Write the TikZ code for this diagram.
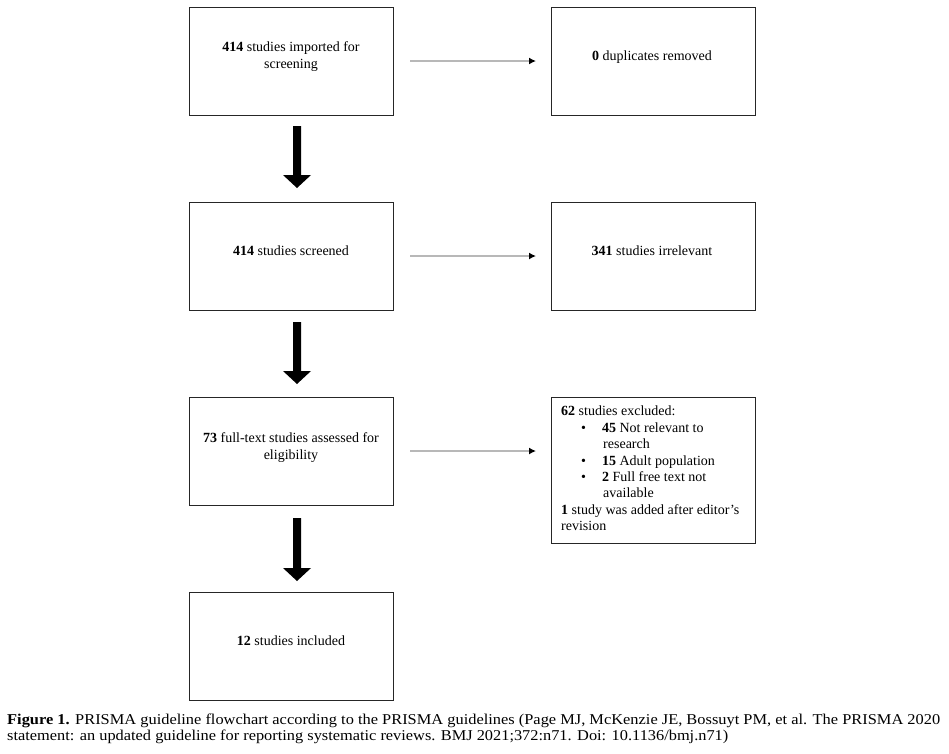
\documentclass[tikz,border=0pt]{standalone}
\usepackage{fontspec}
\setmainfont{Liberation Serif}
\usepackage{graphicx}
\usetikzlibrary{arrows.meta}
\begin{document}
\begin{tikzpicture}[x=1pt,y=-1pt,
  box/.style={draw=black!85,line width=1.2pt,minimum width=204pt,minimum height=108pt,anchor=north west,inner sep=0pt},
  lbl/.style={font=\fontsize{14}{17}\selectfont,align=center},
  bigarrow/.style={draw=none,fill=black},
  thin/.style={draw=black!28,line width=1.6pt,-{Latex[length=7pt,width=7pt,black]}}]
\useasboundingbox (0,0) rectangle (949,753);
% left boxes
\node[box] (b1) at (189,7) {};
\node[box] (b2) at (189,202) {};
\node[box] (b3) at (189,397) {};
\node[box] (b4) at (189,592) {};
% right boxes
\node[box] (r1) at (551,7) {};
\node[box] (r2) at (551,202) {};
\node[box,minimum height=146pt] (r3) at (551,397) {};
% texts
\node[lbl] (t1) at (291,57) {\textbf{414} studies imported for\\screening};
\node[lbl] (t2) at (291,251) {\textbf{414} studies screened};
\node[lbl] (t3) at (291,448) {\textbf{73} full-text studies assessed for\\eligibility};
\node[lbl] (t4) at (291,641) {\textbf{12} studies included};
\node[lbl] (u1) at (652,57) {\textbf{0} duplicates removed};
\node[lbl] (u2) at (652,251) {\textbf{341} studies irrelevant};
\node[font=\fontsize{14}{16.4}\selectfont,anchor=north west,inner sep=0pt,align=left] (u3) at (561,406) {%
\textbf{62} studies excluded:\\
\hspace*{20pt}\textbullet\hspace*{16pt}\textbf{45} Not relevant to\\
\hspace*{42pt}research\\
\hspace*{20pt}\textbullet\hspace*{16pt}\textbf{15} Adult population\\
\hspace*{20pt}\textbullet\hspace*{16pt}\textbf{2} Full free text not\\
\hspace*{42pt}available\\
\textbf{1} study was added after editor’s\\
revision};
% thick down arrows
\foreach \a/\b in {126/188,322/384,518/581}{
  \fill (293,\a) rectangle (301,\b-13) -- (283,\b-13) -- (297,\b) -- (311,\b-13) -- (301,\b-13) -- cycle;
}
% coordinates for horizontal arrows
\coordinate (h1s) at (410,61); \coordinate (h1e) at (536,61);
\coordinate (h2s) at (410,256); \coordinate (h2e) at (536,256);
\coordinate (h3s) at (410,451); \coordinate (h3e) at (536,451);
\draw[thin] (h1s) -- (h1e);
\draw[thin] (h2s) -- (h2e);
\draw[thin] (h3s) -- (h3e);
% caption
\node[anchor=base west,inner sep=0pt] (c1) at (7,724) {\fontsize{15}{15}\selectfont\resizebox{933pt}{\height}{\textbf{Figure 1.} PRISMA guideline flowchart according to the PRISMA guidelines (Page MJ, McKenzie JE, Bossuyt PM, et al. The PRISMA 2020}};
\node[anchor=base west,inner sep=0pt] (c2) at (7,740) {\fontsize{15}{15}\selectfont\resizebox{721pt}{\height}{statement: an updated guideline for reporting systematic reviews. BMJ 2021;372:n71. Doi: 10.1136/bmj.n71)}};
\end{tikzpicture}
\end{document}
